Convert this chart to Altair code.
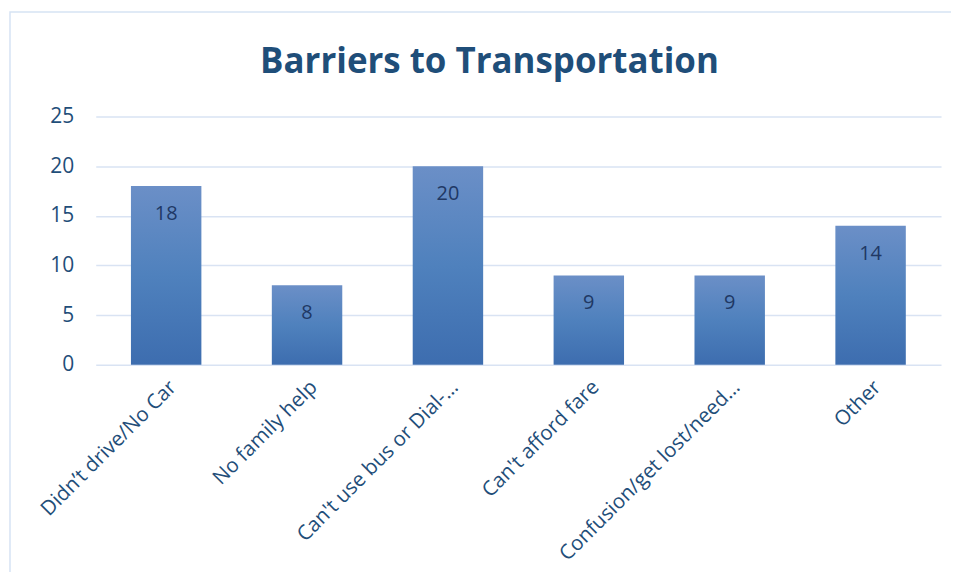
import altair as alt
import pandas as pd

categories = [
    "Didn’t drive/No Car",
    "No family help",
    "Can't use bus or Dial-…",
    "Can't afford fare",
    "Confusion/get lost/need…",
    "Other",
]
counts = [18, 8, 20, 9, 9, 14]
y_ticks = [0, 5, 10, 15, 20, 25]

df = pd.DataFrame({"category": categories, "count": counts})

TEXT = "#1F4E79"
LABEL = "#203864"
GRID = "#D9E3F3"
FONT = "Open Sans"

x = alt.X(
    "category:N",
    sort=categories,
    title=None,
    scale=alt.Scale(paddingInner=0.5, paddingOuter=0.25),
    axis=alt.Axis(
        labelAngle=-45,
        labelAlign="right",
        labelBaseline="top",
        labelFontSize=20.5,
        labelColor=TEXT,
        labelFont=FONT,
        labelPadding=12,
        labelLimit=400,
        domain=False,
        ticks=False,
    ),
)
y = alt.Y(
    "count:Q",
    title=None,
    scale=alt.Scale(domain=[0, 25], nice=False),
    axis=alt.Axis(
        values=y_ticks,
        labelFontSize=21,
        labelColor=TEXT,
        labelFont=FONT,
        labelPadding=22,
        domain=False,
        ticks=False,
        grid=True,
        gridColor=GRID,
        gridWidth=1.5,
    ),
)

frame = alt.Chart(df.head(1)).mark_rect(
    fill="transparent", stroke="#D6E3F4", strokeWidth=1.5
).encode(
    x=alt.value(-86), x2=alt.value(920), y=alt.value(-105), y2=alt.value(600)
)

bars = alt.Chart(df).mark_bar(
    color=alt.Gradient(
        gradient="linear",
        stops=[
            alt.GradientStop(color="#3D6DAF", offset=0),
            alt.GradientStop(color="#4F81BD", offset=0.5),
            alt.GradientStop(color="#6B8FC7", offset=1),
        ],
        x1=0, x2=0, y1=1, y2=0,
    )
).encode(x=x, y=y)

labels = alt.Chart(df).mark_text(
    baseline="middle", dy=28, fontSize=20, font=FONT, color=LABEL
).encode(x=x, y=y, text="count:Q")

chart = (
    alt.layer(frame, bars, labels)
    .properties(
        width=848,
        height=249,
        autosize=alt.AutoSizeParams(type="none"),
        padding={"left": 88, "top": 108, "right": 10, "bottom": 207},
        title=alt.Title(
            "Barriers to Transportation",
            fontSize=35,
            font=FONT,
            fontWeight="bold",
            color=TEXT,
            anchor="middle",
            frame="group",
            baseline="alphabetic",
            dx=-29,
            offset=-97,
        ),
    )
    .configure_view(stroke=None)
)

chart.save("out.html", embed_options={"renderer": "svg", "actions": False})
